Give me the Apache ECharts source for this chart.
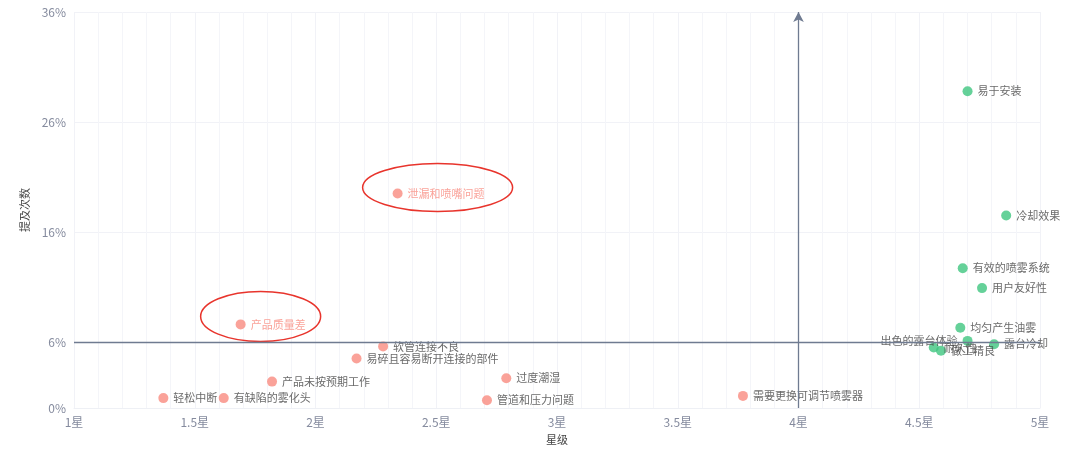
<!DOCTYPE html>
<html>
<head>
<meta charset="utf-8">
<script src="https://cdn.jsdelivr.net/npm/echarts@6/dist/echarts.min.js"></script>
<style>
  html, body { margin: 0; padding: 0; background: #fff; }
  #main { width: 1080px; height: 453px; }
</style>
</head>
<body>
<div id="main"></div>
<script>
// 差评点
const negNames = ['泄漏和喷嘴问题', '产品质量差', '软管连接不良', '易碎且容易断开连接的部件', '产品未按预期工作',
  '过度潮湿', '轻松中断', '有缺陷的雾化头', '管道和压力问题', '需要更换可调节喷雾器']
const negStars = [2.34, 1.69, 2.28, 2.17, 1.82, 2.79, 1.37, 1.62, 2.71, 3.77]
const negShare = [19.5, 7.6, 5.6, 4.5, 2.4, 2.7, 0.9, 0.9, 0.7, 1.1]

// 好评点
const posNames = ['易于安装', '冷却效果', '有效的喷雾系统', '用户友好性', '均匀产生油雾',
  '露台冷却', '出色的露台体验', '耐久性', '做工精良']
const posStars = [4.70, 4.86, 4.68, 4.76, 4.67, 4.81, 4.70, 4.56, 4.59]
const posShare = [28.8, 17.5, 12.7, 10.9, 7.3, 5.8, 6.1, 5.5, 5.2]

const yTicks = [0, 6, 16, 26, 36]
const avgStar = 4
const avgShare = 6
const circled = ['泄漏和喷嘴问题', '产品质量差']

const red = '#f98b7f'
const green = '#3ec67f'
const lineColor = '#6f7b91'

function toData(names, xs, ys) {
  return names.map((n, i) => {
    let d = { name: n, value: [xs[i], ys[i]] }
    if (circled.includes(n)) d.label = { color: red }
    if (n === '出色的露台体验') d.label = { position: 'left' }
    return d
  })
}

let chart = echarts.init(document.getElementById('main'))
chart.setOption({
  animation: false,
  textStyle: { fontFamily: 'Noto Sans CJK SC' },
  grid: { left: 74, right: 40, top: 12, bottom: 45 },
  xAxis: {
    type: 'value',
    min: 1, max: 5, interval: 0.5,
    name: '星级',
    nameLocation: 'middle',
    nameGap: 26,
    nameTextStyle: { color: '#444', fontSize: 11 },
    axisLine: { lineStyle: { color: '#eef0f5' } },
    axisTick: { show: false },
    axisLabel: { color: '#858b9e', fontSize: 12, formatter: v => v + '星' },
    splitLine: { lineStyle: { color: '#f1f2f7' } },
    minorTick: { show: false, splitNumber: 5 },
    minorSplitLine: { show: true, lineStyle: { color: '#f4f5f9' } }
  },
  yAxis: {
    type: 'value',
    min: 0, max: 36,
    name: '提及次数',
    nameLocation: 'middle',
    nameGap: 42,
    nameTextStyle: { color: '#444', fontSize: 11 },
    axisLine: { show: false },
    axisTick: { show: false, customValues: yTicks },
    axisLabel: { color: '#858b9e', fontSize: 12, formatter: '{value}%', customValues: yTicks },
    splitLine: { lineStyle: { color: '#f1f2f7' } }
  },
  series: [
    {
      type: 'scatter',
      symbolSize: 10,
      itemStyle: { color: red },
      label: { show: true, position: 'right', formatter: '{b}', color: '#444', fontSize: 11 },
      data: toData(negNames, negStars, negShare),
      markLine: {
        silent: true,
        symbol: ['none', 'arrow'],
        symbolSize: [8, 10],
        label: { show: false },
        lineStyle: { color: lineColor, type: 'solid', width: 1.3 },
        data: [
          [{ coord: [avgStar, 0] }, { coord: [avgStar, 36] }],
          [{ coord: [1, avgShare], symbol: 'none' }, { coord: [5, avgShare], symbol: 'none' }]
        ]
      }
    },
    {
      type: 'scatter',
      symbolSize: 10,
      itemStyle: { color: green },
      label: { show: true, position: 'right', formatter: '{b}', color: '#444', fontSize: 11 },
      data: toData(posNames, posStars, posShare)
    }
  ]
})

// 圈出重点问题
let p1 = chart.convertToPixel({ gridIndex: 0 }, [negStars[0], negShare[0]])
let p2 = chart.convertToPixel({ gridIndex: 0 }, [negStars[1], negShare[1]])
chart.setOption({
  graphic: [
    { type: 'ellipse', shape: { cx: p1[0] + 40, cy: p1[1] - 6, rx: 75, ry: 24 },
      style: { fill: 'none', stroke: '#e8342c', lineWidth: 1.5 } },
    { type: 'ellipse', shape: { cx: p2[0] + 20, cy: p2[1] - 8, rx: 60, ry: 25 },
      style: { fill: 'none', stroke: '#e8342c', lineWidth: 1.5 } }
  ]
})
</script>
</body>
</html>
